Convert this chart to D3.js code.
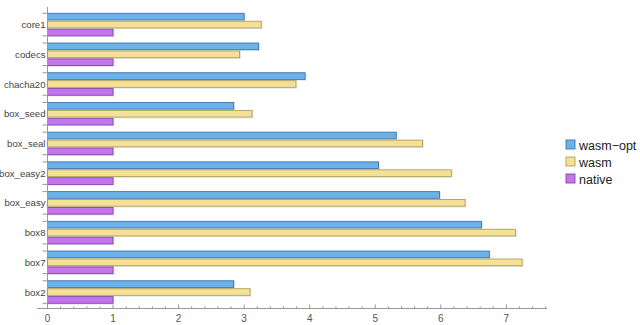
<!DOCTYPE html>
<html><head><meta charset="utf-8">
<script src="https://cdn.jsdelivr.net/npm/d3@7"></script>
<style>
html,body{margin:0;padding:0;background:#fff;}
svg{display:block;font-family:"Liberation Sans",Arial,Helvetica,sans-serif;}
</style></head>
<body>
<svg id="c" width="640" height="325"></svg>
<script>
const categories = ["core1","codecs","chacha20","box_seed","box_seal","box_easy2","box_easy","box8","box7","box2"];
const seriesNames = ["wasm-opt","wasm","native"];
const wasmOpt = [3.00,3.22,3.93,2.84,5.32,5.05,5.98,6.62,6.74,2.84];
const wasm    = [3.26,2.93,3.79,3.12,5.72,6.16,6.37,7.14,7.24,3.09];
const native  = [1,1,1,1,1,1,1,1,1,1];
const xTicks = [0,1,2,3,4,5,6,7];

const fills  = ["#6cb2ea","#f5e196","#c474ee"];
const strokes= ["#3f75a8","#b0a060","#8048a8"];
const seriesValues = [wasmOpt, wasm, native];

const svg = d3.select("#c");
const x = d3.scaleLinear().domain([0,7.62]).range([47.5,547]);
const y = d3.scaleBand().domain(categories).range([13.3,303.3]).paddingInner(0.242).paddingOuter(0);
const ys = d3.scaleBand().domain(seriesNames).range([0,y.bandwidth()]).paddingInner(0.16);

// bars
categories.forEach((c,i)=>{
  seriesNames.forEach((s,j)=>{
    const v = seriesValues[j][i];
    const y0 = y(c)+ys(s);
    svg.append("rect").attr("x",x(0)).attr("y",y0+0.5)
      .attr("width",x(v)-x(0)+0.8).attr("height",ys.bandwidth()+0.3)
      .attr("fill","none").attr("stroke","rgba(0,0,0,0.12)").attr("stroke-width",1);
    svg.append("rect").attr("x",x(0)).attr("y",y0)
      .attr("width",x(v)-x(0)).attr("height",ys.bandwidth())
      .attr("fill",fills[j]).attr("stroke",strokes[j]).attr("stroke-width",0.9);
  });
});

const axisColor = "#999";
// x axis
const xa = svg.append("g");
xa.append("line").attr("x1",37).attr("x2",547).attr("y1",308.5).attr("y2",308.5)
  .attr("stroke",axisColor).attr("stroke-width",1);
const minor = d3.range(0,7.61,0.2);
minor.forEach(t=>{
  const isMajor = Math.abs(t-Math.round(t))<1e-6;
  xa.append("line").attr("x1",x(t)).attr("x2",x(t))
    .attr("y1",308.5).attr("y2",308.5-(isMajor?4:2.2))
    .attr("stroke",axisColor).attr("stroke-width",1);
});
xTicks.forEach(t=>{
  xa.append("text").attr("x",x(t)).attr("y",322).attr("text-anchor","middle")
    .attr("font-size",10).attr("fill","#555").text(t);
});

// y axis
const ya = svg.append("g");
ya.append("line").attr("x1",47.5).attr("x2",47.5).attr("y1",7).attr("y2",308.5)
  .attr("stroke",axisColor).attr("stroke-width",1);
categories.forEach(c=>{
  [y(c), y(c)+y.bandwidth()].forEach(t=>{
    ya.append("line").attr("x1",42.5).attr("x2",47.5).attr("y1",t).attr("y2",t)
      .attr("stroke",axisColor).attr("stroke-width",1);
  });
  ya.append("text").attr("x",45.5).attr("y",y(c)+y.bandwidth()/2+3.5)
    .attr("text-anchor","end").attr("font-size",9.6).attr("fill","#444").text(c);
});

// legend
const lg = svg.append("g");
seriesNames.forEach((s,j)=>{
  const cy = 145 + j*17;
  lg.append("rect").attr("x",566).attr("y",cy-5).attr("width",9).attr("height",9)
    .attr("fill",fills[j]).attr("stroke",strokes[j]).attr("stroke-width",0.9);
  lg.append("text").attr("x",579).attr("y",cy+4.5).attr("font-size",12.5)
    .attr("fill","#222").text(s.replace("-","\u2212"));
});
</script>
</body></html>
